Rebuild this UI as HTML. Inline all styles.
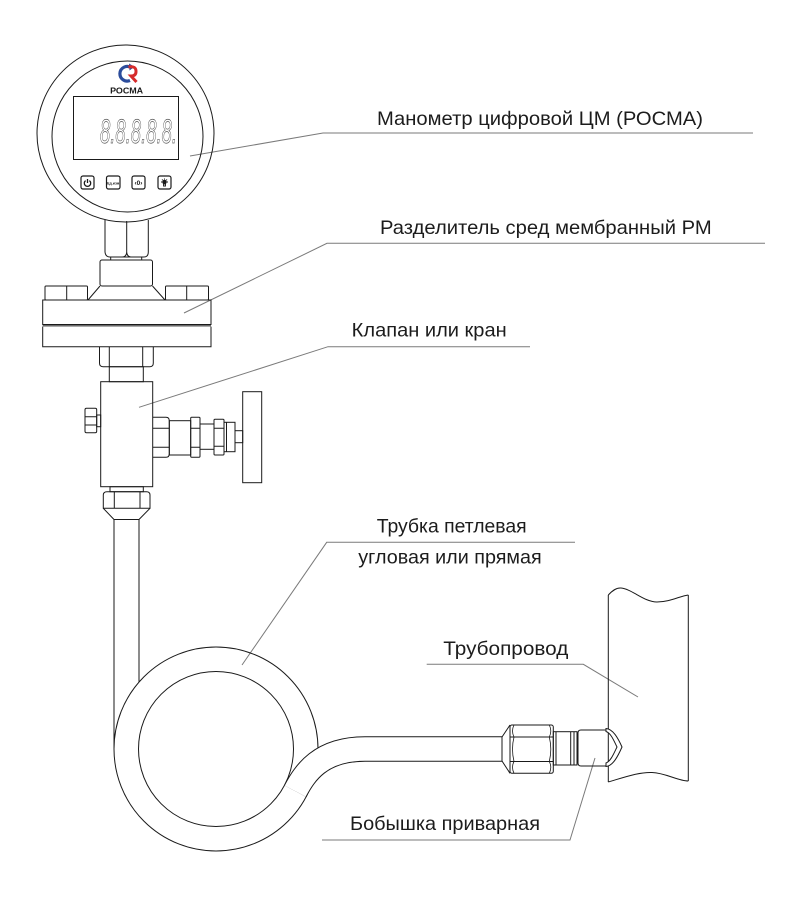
<!DOCTYPE html>
<html><head><meta charset="utf-8"><style>
html,body{margin:0;padding:0;background:#fff;}
svg{display:block;}
text{font-family:"Liberation Sans",sans-serif;}
</style></head><body>
<svg width="800" height="898" viewBox="0 0 800 898" xmlns="http://www.w3.org/2000/svg">
<rect width="800" height="898" fill="#fff"/>

<!-- leader lines -->
<g fill="none" stroke="#7a7a7a" stroke-width="1">
<path d="M190,156 L323,133 L753,133"/>
<path d="M184,313 L327,243.3 L765,243.3"/>
<path d="M139,407.3 L328,346.7 L530,346.7"/>
<path d="M242,665 L326.7,542.3 L575,542.3"/>
<path d="M426.7,664.3 L583.3,664.3 L638,697"/>
<path d="M595,758 L570,840 L322,840"/>
</g>

<g fill="none" stroke="#1a1a1a" stroke-width="1">
<!-- gauge -->
<circle cx="125.5" cy="133.5" r="88.5"/>
<circle cx="127.5" cy="136.5" r="75.5"/>
<rect x="73.5" y="96.5" width="105" height="63"/>
<!-- buttons -->
<rect x="81" y="176" width="13" height="13" rx="2" stroke-width="1.2"/>
<rect x="106.5" y="176" width="13.5" height="13" rx="2" stroke-width="1.2"/>
<rect x="132" y="176" width="13" height="13" rx="2" stroke-width="1.2"/>
<rect x="158" y="176" width="13" height="13" rx="2" stroke-width="1.2"/>
<path d="M85.6,180.6 A3.2,3.2 0 1 0 89.4,180.6" stroke-width="1.3"/>
<line x1="87.5" y1="179" x2="87.5" y2="183" stroke-width="1.3"/>
<circle cx="164.5" cy="182" r="1.8" fill="#1a1a1a"/>
<path d="M164.5,178.5 V179.5 M161,182 H162 M167,182 H168 M162,179.5 L162.7,180.2 M167,179.5 L166.3,180.2 M163.5,184 H165.5 V186 H163.5 Z" stroke-width="0.9"/>

<!-- neck -->
<path d="M105,220 L105,252 Q105.5,257 110,257 L122,257 Q126.5,257 126.7,252 L126.7,221 M126.7,252 Q127,257 131.5,257 L144,257 Q148.3,257 148.3,252 L148.3,220"/>
<rect x="110.7" y="257" width="31" height="3"/>

<!-- separator -->
<rect x="100" y="260" width="52.5" height="26" rx="2"/>
<path d="M100,286 L88,300 M152.5,286 L165,300"/>
<rect x="45" y="286" width="42.5" height="14" rx="1"/>
<line x1="66.7" y1="286" x2="66.7" y2="300"/>
<rect x="165.5" y="286" width="43" height="14" rx="1"/>
<line x1="186.7" y1="286" x2="186.7" y2="300"/>
<rect x="42.7" y="300" width="168.3" height="24.5"/>
<line x1="42.7" y1="325.8" x2="211" y2="325.8" stroke="#555" stroke-width="1.4"/>
<path d="M42.7,326.6 V346.7 H211 V326.6"/>
<path d="M99.5,346.7 L99.5,363 Q99.5,366.7 103,366.7 L150,366.7 Q153.3,366.7 153.3,363 L153.3,346.7"/>
<path d="M109.3,346.7 V366.7 M142.7,346.7 V366.7"/>
<rect x="109.3" y="366.7" width="34" height="15"/>

<!-- valve -->
<rect x="100.7" y="381.7" width="52" height="105"/>
<rect x="85" y="408.3" width="11.7" height="24.4" rx="1.5"/>
<path d="M85,416.7 H96.7 M85,425 H96.7"/>
<rect x="96.7" y="415" width="4" height="11.7"/>
<path d="M152.7,417.3 L166,417.3 Q169.3,417.3 169.3,421 L169.3,453.6 Q169.3,457.3 166,457.3 L152.7,457.3"/>
<path d="M152.7,428.3 H169.3 M152.7,447.3 H169.3"/>
<rect x="169.3" y="420.7" width="21.4" height="34.3"/>
<rect x="190.7" y="417.3" width="9.3" height="40" rx="1"/>
<path d="M190.7,428.3 H200 M190.7,447.3 H200"/>
<rect x="200" y="424" width="14" height="25.3"/>
<rect x="214" y="419.3" width="10" height="35.7" rx="1"/>
<path d="M214,428.3 H224 M214,446.3 H224"/>
<rect x="224" y="422.3" width="11" height="29.4"/>
<line x1="226.5" y1="422.3" x2="226.5" y2="451.7"/>
<rect x="235" y="430.7" width="7.7" height="12"/>
<rect x="242.7" y="391.7" width="19" height="91"/>

<!-- below valve -->
<rect x="110" y="486.7" width="33.3" height="5"/>
<path d="M103.3,508.3 L103.3,495 Q103.3,491.7 107,491.7 L146.5,491.7 Q150,491.7 150,495 L150,508.3 Z"/>
<path d="M114.3,491.7 V508.3 M140,491.7 V508.3"/>
<path d="M103.3,508.3 L114,519.5 L139,519.5 L150,508.3"/>

<!-- vertical pipe + loop -->
<path d="M114,519.5 L114,749 M139,519.5 L139,682.2"/>
<circle cx="216" cy="749" r="102"/>
<circle cx="216" cy="749" r="77.5"/>
</g>

<!-- exit pipe (drawn over loop) -->
<path d="M295.2,791.1 C304.6,773.4 320,749 365,749 L502,749" fill="none" stroke="#1a1a1a" stroke-width="25.5"/>
<path d="M295.2,791.1 C304.6,773.4 320,749 365,749 L502,749" fill="none" stroke="#fff" stroke-width="23.5"/>

<g fill="none" stroke="#1a1a1a" stroke-width="1">
<!-- nut fitting -->
<path d="M502,737 L510,725 M502,761 L510,773.3 M502,737 V761"/>
<rect x="510" y="725" width="43.3" height="48.3" rx="2"/>
<path d="M510,737 H553.3 M510,761.5 H553.3"/>
<path d="M514,725 Q511,731 514,737 Q511,749 514,761.5 Q511,767 514,773.3 M549.3,725 Q552.3,731 549.3,737 Q552.3,749 549.3,761.5 Q552.3,767 549.3,773.3" stroke-width="0.8"/>
<rect x="553.3" y="731.7" width="23.7" height="33.3"/>
<path d="M556,731.7 V765 M570.7,731.7 V765 M574,731.7 V765"/>
<path d="M607,730 L581,730 Q578,730 578,733 L578,763 Q578,766 581,766 L607,766"/>

<!-- pipeline -->
<path d="M608.3,595 V782"/>
<path d="M688.3,595 V781"/>
<path d="M608.3,595 C612,591 616,587.5 621,588 C632,589 644,602 657,602 C670,602 680,596 688.3,595"/>
<path d="M608.3,782 C622,778 638,772 652,772.5 C666,773 678,781 688.3,781"/>
<!-- weld -->
<path d="M606,728.5 C613,729 618,738 622,747 C618,756 613,766 606,766.5 L606,763 C611,761 614,753 617,747 C614,741 611,733 606,731.5 Z" fill="#fff"/>
</g>

<!-- digits -->
<text x="100" y="143" font-size="34" font-style="italic" textLength="77" lengthAdjust="spacingAndGlyphs" fill="#fff" stroke="#555" stroke-width="0.7">8.8.8.8.8.</text>
<!-- button labels -->
<text x="113.2" y="184.3" font-size="3.6" font-weight="bold" text-anchor="middle" fill="#1a1a1a">Ед.изм</text>
<text x="138.5" y="185" font-size="6.5" font-weight="bold" text-anchor="middle" fill="#1a1a1a">‹0›</text>

<!-- logo -->
<path d="M131,67.5 A7.3,7.3 0 1 0 130,80.5" fill="none" stroke="#2b4c9b" stroke-width="3.2"/>
<path d="M129,63.5 L134.5,66.8 L129.5,70.5 Z" fill="#2b4c9b"/>
<path d="M128.5,67 Q136,65.5 136,71.5 Q136,76 131,76 L136.5,82" fill="none" stroke="#d62b2b" stroke-width="3"/>
<text x="126.6" y="93.3" font-size="8.5" font-weight="bold" text-anchor="middle" fill="#1a1a1a" textLength="33" lengthAdjust="spacingAndGlyphs">РОСМА</text>

<!-- labels -->
<g font-size="19.5" fill="#1c1c1c">
<text x="377" y="125" textLength="326" lengthAdjust="spacingAndGlyphs">Манометр цифровой ЦМ (РОСМА)</text>
<text x="380" y="234" textLength="331.7" lengthAdjust="spacingAndGlyphs">Разделитель сред мембранный РМ</text>
<text x="351.7" y="336.7" textLength="155" lengthAdjust="spacingAndGlyphs">Клапан или кран</text>
<text x="376.7" y="532.7" textLength="150" lengthAdjust="spacingAndGlyphs">Трубка петлевая</text>
<text x="358.3" y="563.3" textLength="183.4" lengthAdjust="spacingAndGlyphs">угловая или прямая</text>
<text x="443.3" y="655" textLength="125" lengthAdjust="spacingAndGlyphs">Трубопровод</text>
<text x="350" y="830" textLength="190" lengthAdjust="spacingAndGlyphs">Бобышка приварная</text>
</g>
</svg>
</body></html>
